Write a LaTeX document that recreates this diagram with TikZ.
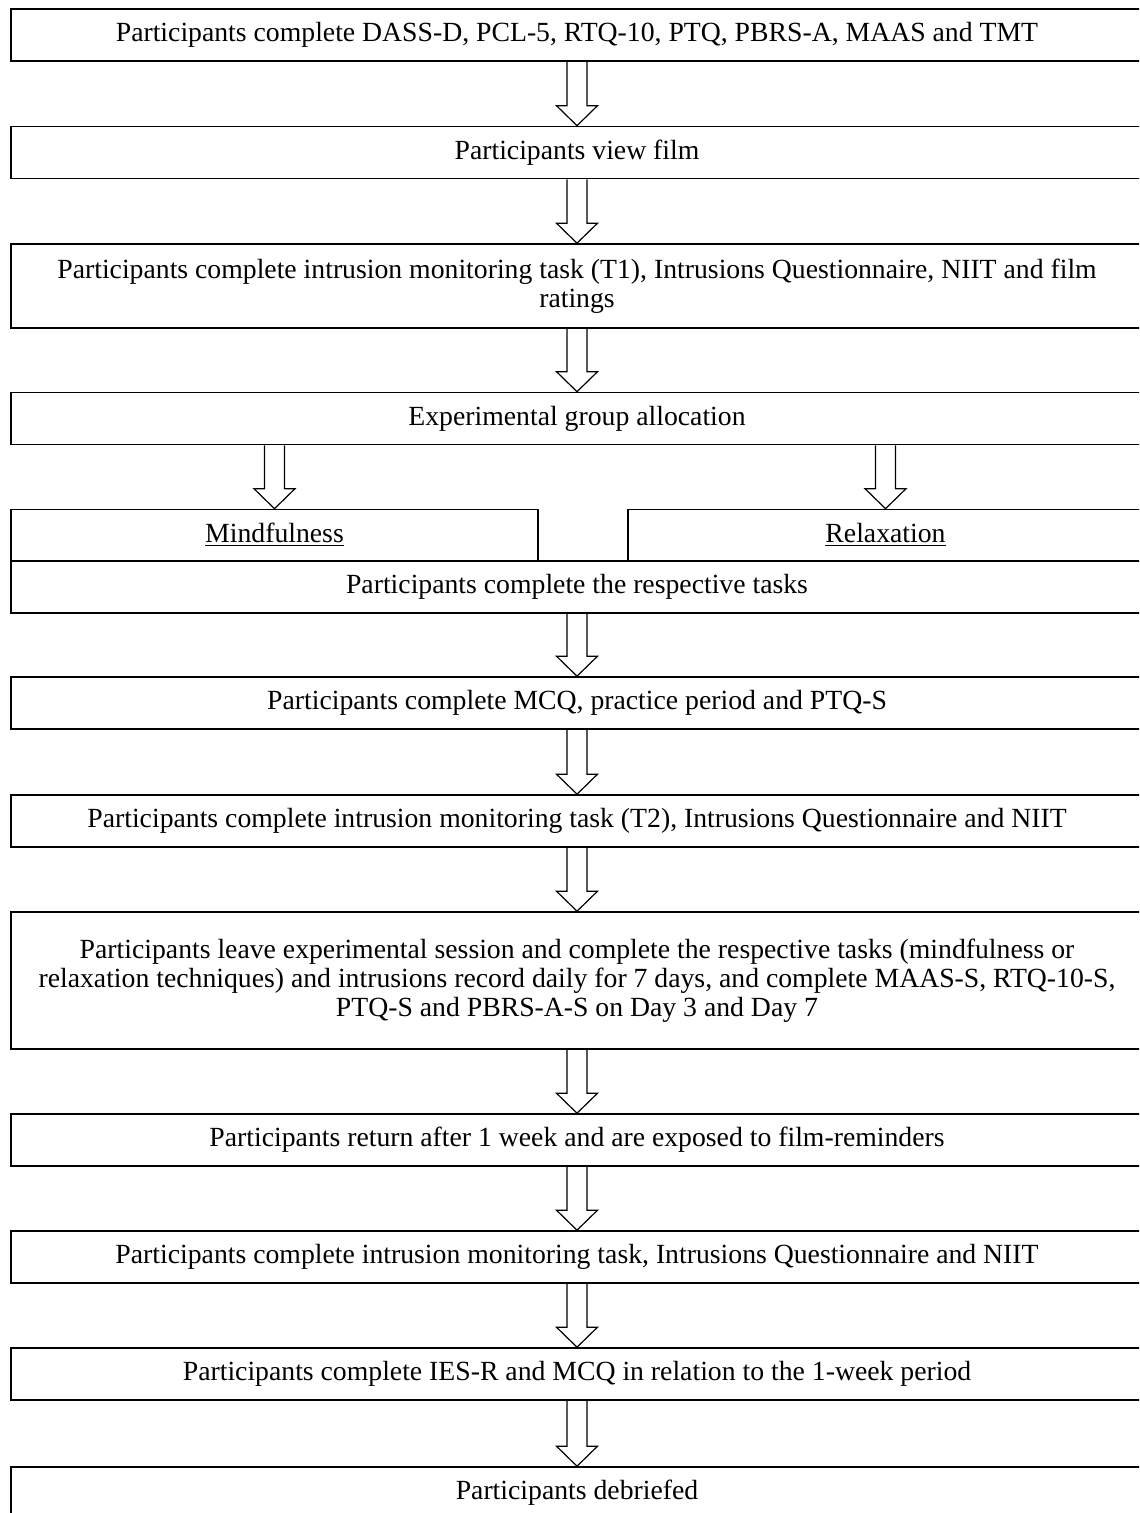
\documentclass[tikz,border=0pt]{standalone}
\usepackage{fontspec}
\setmainfont{Liberation Serif}
\usetikzlibrary{calc}

\tikzset{
  stage/.style={draw, line width=0.8pt, minimum width=566pt, minimum height=26pt,
    inner sep=0pt, align=center, font=\fontsize{13.86}{14.5}\selectfont},
  armbox/.style={stage, minimum width=#1, text height=9.6pt, text depth=3pt},
  blockarrow/.style={draw, line width=0.6pt, line join=miter},
}
% hollow block arrow from the bottom of one box to the top of the next
\newcommand{\hollowarrow}[2]{%
  \draw[blockarrow] let \p1=(#1.south), \p2=(#2.north) in
    (\x2-5pt,\y1) -- (\x2-5pt,\y2+10pt) -- (\x2-10.25pt,\y2+10pt) -- (\x2,\y2)
    -- (\x2+10.25pt,\y2+10pt) -- (\x2+5pt,\y2+10pt) -- (\x2+5pt,\y1);
}

\begin{document}
\begin{tikzpicture}[x=0.5pt, y=-0.5pt]
    \useasboundingbox (0,0) rectangle (1139,1513);
    \clip (0,0) rectangle (1139,1513);

    \node[stage] (baseline) at (577,35) {Participants complete DASS-D, PCL-5, RTQ-10, PTQ, PBRS-A, MAAS and TMT};
    \node[stage] (film) at (577,152.5) {Participants view film};
    \node[stage, minimum height=42pt] (tone) at (577,286) {Participants complete intrusion monitoring task (T1), Intrusions Questionnaire, NIIT and film\\ratings};
    \node[stage] (alloc) at (577,418.5) {Experimental group allocation};
    \node[armbox=263.5pt] (mind) at (274.5,535.5) {\underline{Mindfulness}};
    \node[armbox=257.5pt] (relax) at (885.5,535.5) {\underline{Relaxation}};
    \node[stage] (tasks) at (577,587) {Participants complete the respective tasks};
    \node[stage] (mcq) at (577,703) {Participants complete MCQ, practice period and PTQ-S};
    \node[stage] (ttwo) at (577,821) {Participants complete intrusion monitoring task (T2), Intrusions Questionnaire and NIIT};
    \node[stage, minimum height=68.5pt] (week) at (577,980.5) {Participants leave experimental session and complete the respective tasks (mindfulness or\\relaxation techniques) and intrusions record daily for 7 days, and complete MAAS-S, RTQ-10-S,\\PTQ-S and PBRS-A-S on Day 3 and Day 7};
    \node[stage] (return) at (577,1140) {Participants return after 1 week and are exposed to film-reminders};
    \node[stage] (tthree) at (577,1257) {Participants complete intrusion monitoring task, Intrusions Questionnaire and NIIT};
    \node[stage] (iesr) at (577,1374) {Participants complete IES-R and MCQ in relation to the 1-week period};
    \node[stage] (debrief) at (577,1493) {Participants debriefed};

    \hollowarrow{baseline}{film}
    \hollowarrow{film}{tone}
    \hollowarrow{tone}{alloc}
    \hollowarrow{alloc}{mind}
    \hollowarrow{alloc}{relax}
    \hollowarrow{tasks}{mcq}
    \hollowarrow{mcq}{ttwo}
    \hollowarrow{ttwo}{week}
    \hollowarrow{week}{return}
    \hollowarrow{return}{tthree}
    \hollowarrow{tthree}{iesr}
    \hollowarrow{iesr}{debrief}
\end{tikzpicture}
\end{document}
